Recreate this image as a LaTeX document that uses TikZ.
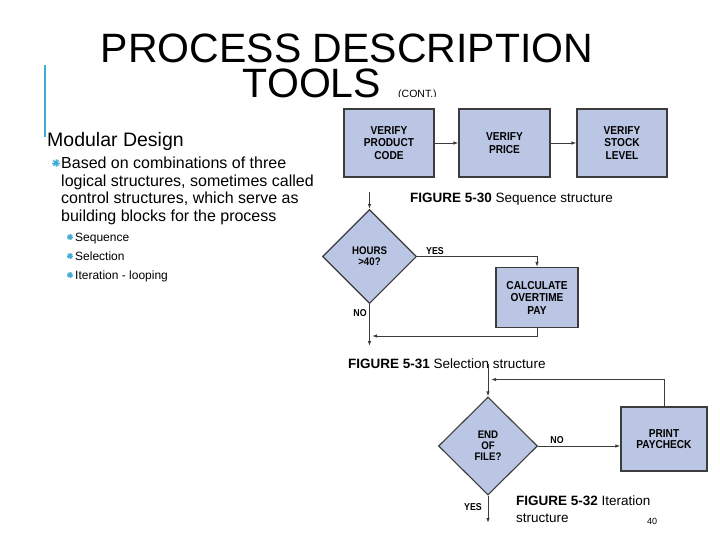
\documentclass[tikz,border=0pt]{standalone}
\usepackage{fontspec}
\setmainfont{Liberation Sans}
\newfontfamily\condfont{Liberation Sans}[FakeStretch=0.88]
\usetikzlibrary{shapes.geometric,arrows.meta}
\definecolor{boxblue}{RGB}{187,198,228}
\definecolor{edgegray}{RGB}{60,60,60}
\definecolor{accent}{RGB}{62,172,212}
\tikzset{
  flowbox/.style={draw=edgegray,fill=boxblue,line width=1.1pt,inner sep=0pt,align=center,
    font=\condfont\bfseries\fontsize{11.5}{12.5}\selectfont},
  decision/.style={diamond,draw=edgegray,fill=boxblue,line width=1.1pt,inner sep=0pt,aspect=1,
    align=center,font=\condfont\bfseries\fontsize{11}{11}\selectfont},
  flow/.style={draw=edgegray,line width=0.9pt,-{Latex[length=5pt,width=3.5pt]}},
  edgelabel/.style={font=\condfont\bfseries\fontsize{10}{10}\selectfont,inner sep=0pt},
  caption/.style={anchor=base west,inner sep=0pt,font=\fontsize{13.5}{15}\selectfont},
  bodytext/.style={anchor=base west,inner sep=0pt,font=\fontsize{16}{17.4}\selectfont},
  subtext/.style={anchor=base west,inner sep=0pt,font=\fontsize{12}{14}\selectfont},
  bulletmark/.style={circle,inner sep=0pt,minimum size=#1,
    path picture={\fill[accent] (path picture bounding box.center) circle[radius=0.28*#1];
      \foreach \a in {0,22.5,...,337.5}
        \draw[accent,line width=0.7pt] (path picture bounding box.center) -- ++(\a:0.5*#1);}},
  bulletmark/.default=8pt
}
\begin{document}
\begin{tikzpicture}[x=1pt,y=-1pt]
\useasboundingbox[fill=white] (0,0) rectangle (720,540);
% title
\node[inner sep=0pt,font=\fontsize{41}{41}\selectfont] (t1) at (347,48) {PROCESS DESCRIPTION};
\node[inner sep=0pt,font=\fontsize{41}{41}\selectfont] (t2) at (312,83.5) {TOOLS};
\begin{scope}
\clip (392,84) rectangle (470,96.3);
\node[anchor=base west,inner sep=0pt,font=\fontsize{10.5}{10.5}\selectfont] (cont) at (398,97.8) {(CONT.)};
\end{scope}
\draw[accent,line width=2.4pt] (45,65) -- (45,137);
% left text
\node[anchor=base west,inner sep=0pt,font=\fontsize{19.5}{20}\selectfont] (md) at (47,147) {Modular Design};
\node[bulletmark=8pt] (bm) at (56,163) {};
\node[bodytext] (l1) at (61,169) {Based on combinations of three};
\node[bodytext] (l2) at (61,186.4) {logical structures, sometimes called};
\node[bodytext] (l3) at (61,203.8) {control structures, which serve as};
\node[bodytext] (l4) at (61,221.2) {building blocks for the process};
\node[bulletmark=6.5pt] (sb1) at (70,237) {};
\node[bulletmark=6.5pt] (sb2) at (70,256) {};
\node[bulletmark=6.5pt] (sb3) at (70,275) {};
\node[subtext] (s1) at (75,241.3) {Sequence};
\node[subtext] (s2) at (75,260.3) {Selection};
\node[subtext] (s3) at (75,279.3) {Iteration - looping};
% sequence
\node[flowbox,minimum width=90pt,minimum height=68pt] (b1) at (389,143) {VERIFY\\PRODUCT\\CODE};
\node[flowbox,minimum width=91pt,minimum height=68pt] (b2) at (504.5,143) {VERIFY\\PRICE};
\node[flowbox,minimum width=90pt,minimum height=68pt] (b3) at (622,143) {VERIFY\\STOCK\\LEVEL};
\draw[flow] (b1) -- (b2);
\draw[flow] (b2) -- (b3);
\node[caption] (c30) at (410,203) {\textbf{FIGURE 5-30} Sequence structure};
% selection
\coordinate (selin) at (369.5,192);
\node[decision,minimum width=94pt,minimum height=94pt] (d1) at (369.5,256.5) {HOURS\\{>}40?};
\node[flowbox,minimum width=82pt,minimum height=60pt] (cp) at (537,297.5) {CALCULATE\\OVERTIME\\PAY};
\draw[flow] (selin) -- (d1.north);
\draw[flow] (d1.east) -| (cp.north);
\coordinate (selret) at (372,336);
\coordinate (selout) at (369.5,346);
\draw[flow] (cp.south) |- (selret);
\draw[flow] (d1.south) -- (selout);
\node[edgelabel] (yes1) at (435,251) {YES};
\node[edgelabel] (no1) at (360,313) {NO};
\node[caption] (c31) at (348,368) {\textbf{FIGURE 5-31} Selection structure};
% iteration
\coordinate (itin) at (488,364);
\node[decision,minimum width=99pt,minimum height=98pt] (d2) at (488,446) {END\\OF\\FILE?};
\node[flowbox,minimum width=86pt,minimum height=64pt,font=\condfont\bfseries\fontsize{11.5}{11.5}\selectfont] (pp) at (664,439) {PRINT\\PAYCHECK};
\draw[flow] (itin) -- (d2.north);
\draw[flow] (d2.east) -- (d2.east -| pp.west);
\coordinate (itret) at (491,379.5);
\draw[flow] (pp.north) |- (itret);
\coordinate (itout) at (488,523);
\draw[flow] (d2.south) -- (itout);
\node[edgelabel] (no2) at (557,440) {NO};
\node[edgelabel] (yes2) at (473,507) {YES};
\node[caption] (c32a) at (516,505) {\textbf{FIGURE 5-32} Iteration};
\node[caption] (c32b) at (516,522) {structure};
\node[inner sep=0pt,font=\fontsize{9}{9}\selectfont] (pg) at (652,521) {40};
\end{tikzpicture}
\end{document}
